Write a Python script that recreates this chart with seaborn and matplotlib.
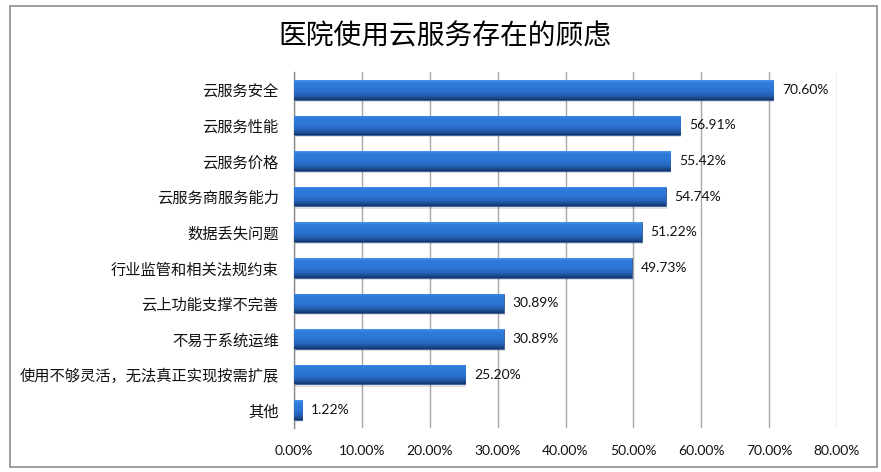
import numpy as np
import matplotlib
matplotlib.use('Agg')
import matplotlib.pyplot as plt
import seaborn as sns
from matplotlib.colors import LinearSegmentedColormap
from matplotlib.patches import Rectangle
from matplotlib.ticker import FuncFormatter

categories = ['云服务安全', '云服务性能', '云服务价格', '云服务商服务能力', '数据丢失问题',
              '行业监管和相关法规约束', '云上功能支撑不完善', '不易于系统运维',
              '使用不够灵活，无法真正实现按需扩展', '其他']
values = [70.60, 56.91, 55.42, 54.74, 51.22, 49.73, 30.89, 30.89, 25.20, 1.22]
xticks = [0, 10, 20, 30, 40, 50, 60, 70, 80]
title = '医院使用云服务存在的顾虑'

sns.set_style('white')
plt.rcParams['font.family'] = ['Noto Sans CJK SC', 'DejaVu Sans']

fig = plt.figure(figsize=(8.81, 4.72), dpi=100)
ax = fig.add_axes([294 / 881, 1 - 428 / 472, (837 - 294) / 881, (428 - 72) / 472])

sns.barplot(x=values, y=categories, orient='h', color='#2e76d6', width=0.55,
            edgecolor='#1d4a8c', linewidth=0.5, ax=ax, zorder=2)

# gradient fill on each bar (light top edge, flat blue, dark bottom)
cmap = LinearSegmentedColormap.from_list(
    'bar', [(0.0, '#4c92ea'), (0.12, '#307ddc'), (0.5, '#2c74d4'),
            (0.75, '#2662b8'), (0.9, '#1c4b8e'), (1.0, '#12346a')])
grad = np.linspace(0, 1, 64).reshape(-1, 1)
for p in ax.patches:
    x0, y0 = p.get_x(), p.get_y()
    w, h = p.get_width(), p.get_height()
    # soft shadow under the bar
    ax.add_patch(Rectangle((x0 + 0.15, y0 + 0.06), w, h, facecolor='#000000',
                           alpha=0.12, lw=0, zorder=1.5))
    im = ax.imshow(grad, cmap=cmap, aspect='auto', interpolation='bilinear',
                   extent=(x0, x0 + w, y0 + h, y0), origin='upper', zorder=3)
    im.set_clip_path(p)

for i, v in enumerate(values):
    ax.text(v + 1.3, i, f'{v:.2f}%', va='center', ha='left', fontsize=10,
            family=['Lato', 'DejaVu Sans'], color='#111111', zorder=4)

ax.set_xlim(0, 80)
ax.set_ylim(len(categories) - 0.5, -0.5)
ax.set_xticks(xticks)
ax.xaxis.set_major_formatter(FuncFormatter(lambda x, pos: f'{x:.2f}%'))
for lab in ax.get_xticklabels():
    lab.set_family(['Lato', 'DejaVu Sans'])
ax.tick_params(axis='x', length=0, pad=12, labelsize=10, labelcolor='#111111')
ax.tick_params(axis='y', which='major', length=0, pad=11, labelsize=11, labelcolor='#111111')
ax.set_yticks(np.arange(-0.5, len(categories), 1), minor=True)
ax.tick_params(axis='y', which='minor', length=4, width=1, color='#8c8c8c', direction='out')

ax.xaxis.grid(True, color='#a8a8a8', lw=1)
ax.set_axisbelow(True)
for s in ['top', 'right', 'bottom']:
    ax.spines[s].set_visible(False)
ax.spines['left'].set_color('#8c8c8c')
ax.spines['left'].set_linewidth(1)
ax.set_xlabel('')
ax.set_ylabel('')

fig.text(445 / 881, 1 - 37 / 472, title, ha='center', va='center', fontsize=20,
         color='#000000')
fig.add_artist(Rectangle((10 / 881, 1 - 467 / 472), (877 - 10) / 881, (467 - 6) / 472,
                         transform=fig.transFigure, fill=False, ec='#8c8c8c', lw=1.2))

fig.savefig('out.png', dpi=100)
